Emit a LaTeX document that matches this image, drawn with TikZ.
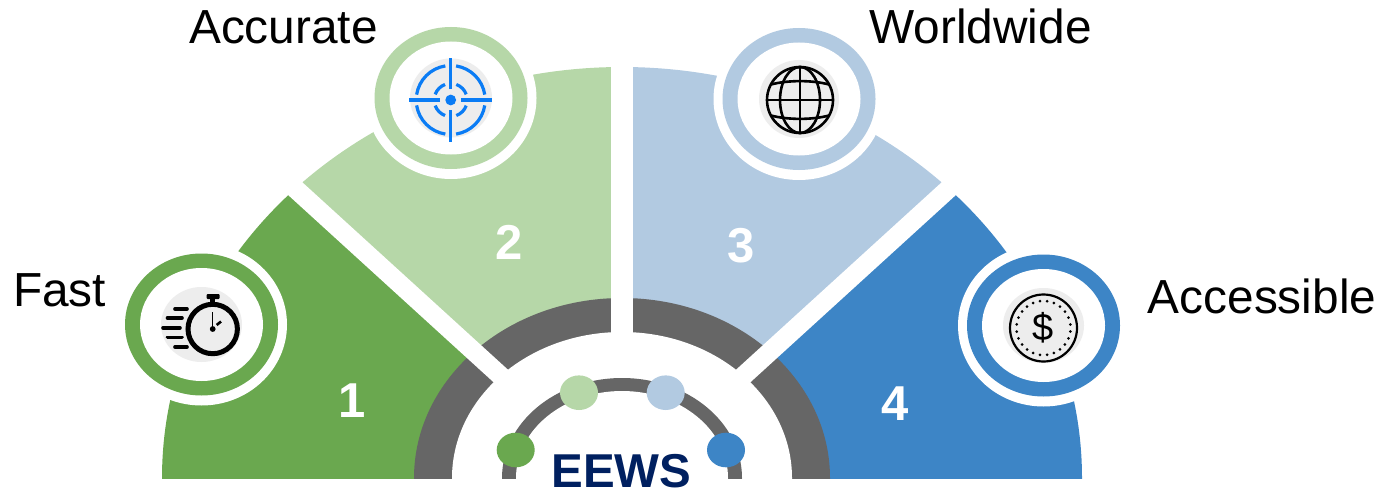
\documentclass[tikz,border=0pt]{standalone}
\usepackage{fontspec}
\setmainfont{Liberation Sans}
\definecolor{cA}{HTML}{6AA84F}
\definecolor{cB}{HTML}{B6D7A8}
\definecolor{cC}{HTML}{B2CAE1}
\definecolor{cD}{HTML}{3D85C6}
\definecolor{gr}{HTML}{666666}
\definecolor{navy}{HTML}{002060}
\definecolor{disc}{HTML}{EDEDED}
\definecolor{tgt}{HTML}{0A7CF5}
\tikzset{
 lbl/.style={font=\fontsize{47.8}{50}\selectfont,text=black,inner sep=0pt,anchor=base},
 num/.style={font=\fontsize{49}{50}\selectfont\bfseries,text=white,inner sep=0pt,anchor=base},
 band/.style={white,line width=19pt},
 speed/.style={line width=3.6pt,line cap=round,black},
 tline/.style={line width=3.2pt,tgt},
 gline/.style={line width=2.6pt,black}
}
\newcommand{\ringshape}[4]{%
 \fill[white] (#1) ellipse [x radius=85.5,y radius=81];
 \fill[#2] (#1) ellipse [x radius=76.5,y radius=71];
 \fill[white] (#1) ellipse [x radius=61.5,y radius=56.5];
 \fill[disc] (#1) ellipse [x radius=#3,y radius=#4];
}
\begin{document}
\begin{tikzpicture}[x=1pt,y=-1pt]
\useasboundingbox (0,0) rectangle (1388,492);
\coordinate (O) at (622,478);
% fan sectors
\begin{scope}
 \clip (0,0) rectangle (1388,478);
 \clip (O) ellipse [x radius=460,y radius=411];
 \fill[cA] (140,480) -- (140,45) -- (622,480) -- cycle;
 \fill[cB] (140,45) -- (622,45) -- (622,480) -- cycle;
 \fill[cC] (1104,45) -- (622,45) -- (622,480) -- cycle;
 \fill[cD] (1104,480) -- (1104,45) -- (622,480) -- cycle;
\end{scope}
% grey band and central white
\begin{scope}
 \clip (0,0) rectangle (1388,478);
 \fill[gr] (O) ellipse [x radius=208,y radius=180];
 \fill[white] (O) ellipse [x radius=170,y radius=146];
\end{scope}
% white gaps
\draw[band,line width=22pt] (622,50) -- (622,340);
\draw[band] (272,167.5) -- (503,378);
\draw[band] (972,167.5) -- (741,378);
% small arc
\begin{scope}
 \clip (0,0) rectangle (1388,478);
 \fill[gr] (O) ellipse [x radius=120,y radius=100];
 \fill[white] (O) ellipse [x radius=106,y radius=87];
\end{scope}
\fill[cA] (515.7,450) ellipse [x radius=19,y radius=17.3];
\fill[cB] (579,392.7) ellipse [x radius=19,y radius=17.3];
\fill[cC] (665.7,392.7) ellipse [x radius=19,y radius=17.3];
\fill[cD] (726,450) ellipse [x radius=19,y radius=17.3];
% rings
\coordinate (R1) at (201.5,324.5);
\coordinate (R2) at (451,98);
\coordinate (R3) at (799,99);
\coordinate (R4) at (1043.5,325.5);
\ringshape{R1}{cA}{40.5}{37.5}
\ringshape{R2}{cB}{41}{39.5}
\ringshape{R3}{cC}{40}{39}
\ringshape{R4}{cD}{40.5}{37.5}
% stopwatch
\coordinate (W) at (212.7,329);
\draw[line width=5pt,black] (W) circle [radius=24.7];
\fill[black,rounded corners=1pt] (206.5,294) rectangle (219.5,299);
\fill[black] (210,298) rectangle (215,304);
\draw[line width=1.5pt,black] (W) -- (212.7,311.5);
\fill[black] (W) circle [radius=2.9];
\draw[line width=2.6pt,black] (216.7,325) -- (221,321.5);
\draw[speed] (175,309) -- (187,309);
\draw[speed] (167.5,318) -- (182,318);
\draw[speed] (163,327.7) -- (180,327.7);
\draw[speed] (167.5,337.3) -- (182,337.3);
\draw[speed] (175,347) -- (187,347);
% target
\coordinate (T) at (450.7,100);
\fill[tgt] (T) circle [radius=5.4];
\foreach \q in {0,90,180,270}{
 \draw[tline] (T) ++(\q+9:34.5) arc [start angle=\q+9,end angle=\q+81,radius=34.5];
 \draw[tline] (T) ++(\q+20:16.5) arc [start angle=\q+20,end angle=\q+70,radius=16.5];
 \draw[tline] (T) ++(\q:10.5) -- ++(\q:31);
}
% globe
\coordinate (G) at (800,100);
\draw[gline] (G) circle [radius=33];
\draw[gline] (G) ellipse [x radius=20,y radius=33];
\draw[gline] (800,67) -- (800,133);
\draw[gline] (767,100) -- (833,100);
\draw[gline] (771,84.5) .. controls (788,80) and (812,80) .. (829,84.5);
\draw[gline] (771,115.5) .. controls (788,120) and (812,120) .. (829,115.5);
% coin
\coordinate (C) at (1043.5,328);
\draw[line width=2.2pt,black] (C) circle [radius=33.5];
\foreach \a in {0,15,...,345}{\fill[black] (C) ++(\a+7.5:27) circle [radius=1.5];}
\node[inner sep=0pt,font=\fontsize{38}{40}\selectfont] (dollar) at (1043.5,328) {\$};
% numbers
\node[num] (n1) at (352,417) {1};
\node[num] (n2) at (509,259) {2};
\node[num] (n3) at (741.5,262) {3};
\node[num] (n4) at (895.5,420) {4};
% labels
\node[lbl] (fast) at (59.5,306) {Fast};
\node[lbl] (accurate) at (283.5,43.5) {Accurate};
\node[lbl] (world) at (980.5,43.5) {Worldwide};
\node[lbl] (access) at (1262,313) {Accessible};
\node[inner sep=0pt,anchor=base,font=\fontsize{47.5}{48}\selectfont\bfseries,text=navy] (eews) at (621.5,487) {EEWS};
\end{tikzpicture}
\end{document}
